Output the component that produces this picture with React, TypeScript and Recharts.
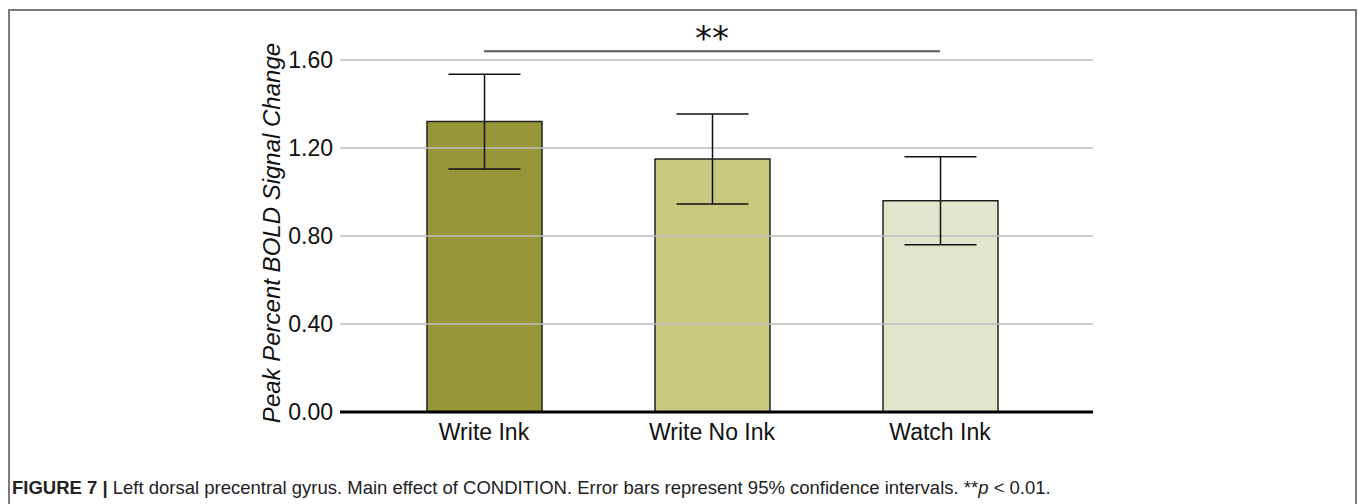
import React from 'react';
import { BarChart, Bar, XAxis, YAxis, ErrorBar, ReferenceLine, Label, Cell } from 'recharts';

const conditions = ['Write Ink', 'Write No Ink', 'Watch Ink'];
const bold = [1.32, 1.15, 0.96];
const ci = [0.215, 0.205, 0.2];
const barColors = ['#979739', '#c8c87f', '#e2e4cb'];
const yTicks = [0, 0.4, 0.8, 1.2, 1.6];

const data = conditions.map((name, i) => ({ name, value: bold[i], err: ci[i] }));

const font = '"Liberation Sans", Arial, sans-serif';

const YLabel = () => (
  <text
    x={271}
    y={233}
    transform="rotate(-90, 271, 233)"
    textAnchor="middle"
    dominantBaseline="central"
    fontFamily={font}
    fontStyle="italic"
    fontSize={24}
    fill="#111"
  >
    Peak Percent BOLD Signal Change
  </text>
);

const App: React.FC = () => {
  return (
    <div style={{ position: 'absolute', left: 0, top: 0, width: 1360, height: 504, background: '#fff', overflow: 'hidden' }}>
      <div
        style={{
          position: 'absolute',
          left: 8,
          top: 9,
          width: 1345,
          height: 500,
          borderLeft: '2px solid #7a7a7a',
          borderTop: '2px solid #7a7a7a',
          borderRight: '2px solid #7a7a7a',
        }}
      />
      <div style={{ position: 'absolute', left: 0, top: 0 }}>
        <BarChart width={1360} height={450} data={data} margin={{ top: 16, right: 267, bottom: 8, left: 260 }}>
          {yTicks.slice(1).map(t => (
            <ReferenceLine key={t} y={t} stroke="#bdbdbd" strokeWidth={1.5} />
          ))}
          <XAxis
            dataKey="name"
            padding={{ left: 30, right: 39 }}
            axisLine={{ stroke: '#000', strokeWidth: 3 }}
            tickLine={false}
            tickMargin={6}
            height={30}
            tick={{ fontFamily: font, fontSize: 23, fill: '#111' }}
          />
          <YAxis
            domain={[0, 1.8]}
            ticks={yTicks}
            width={80}
            axisLine={false}
            tickLine={false}
            tickMargin={1}
            tickFormatter={(v: number) => v.toFixed(2)}
            tick={{ fontFamily: font, fontSize: 23, fill: '#111' }}
          >
            <Label content={<YLabel />} />
          </YAxis>
          <Bar dataKey="value" barSize={115} stroke="#222" strokeWidth={1.5} isAnimationActive={false}>
            {data.map((d, i) => (
              <Cell key={d.name} fill={barColors[i]} />
            ))}
            <ErrorBar dataKey="err" width={36} stroke="#111" strokeWidth={1.5} isAnimationActive={false} />
          </Bar>
          <ReferenceLine
            segment={[{ x: 'Write Ink', y: 1.64 }, { x: 'Watch Ink', y: 1.64 }]}
            stroke="#555"
            strokeWidth={2}
          >
            <Label value="**" position="top" offset={1} style={{ fontFamily: '"DejaVu Sans", sans-serif', fontSize: 34, fill: '#111' }} />
          </ReferenceLine>
        </BarChart>
      </div>
      <div
        style={{
          position: 'absolute',
          left: 12,
          top: 477,
          fontFamily: font,
          fontSize: 18.5,
          color: '#222',
          whiteSpace: 'nowrap',
        }}
      >
        <b>FIGURE 7 |</b> Left dorsal precentral gyrus. Main effect of CONDITION. Error bars represent 95% confidence intervals. **<i>p</i> &lt; 0.01.
      </div>
    </div>
  );
};

export default App;
